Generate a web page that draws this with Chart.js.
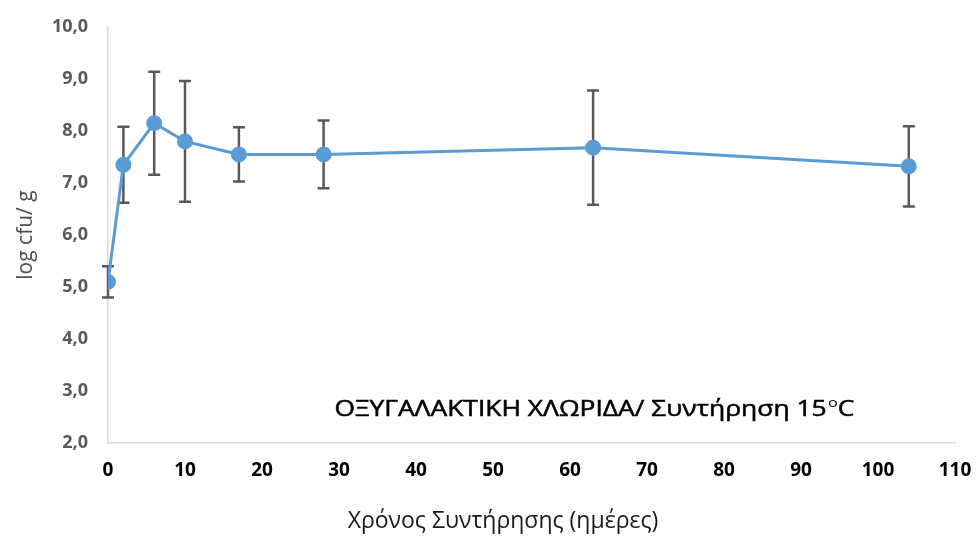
<!DOCTYPE html>
<html>
<head>
<meta charset="utf-8">
<script src="https://cdn.jsdelivr.net/npm/chart.js@4/dist/chart.umd.min.js"></script>
<style>
  html, body { margin: 0; padding: 0; background: #ffffff; }
  #wrap { width: 978px; height: 540px; }
</style>
</head>
<body>
<div id="wrap"><canvas id="chart" width="978" height="540"></canvas></div>
<script>
// Storage time (days)
const days = [0, 2, 6, 10, 17, 28, 63, 104];
// Mean log cfu/g
const logCfu = [5.1, 7.35, 8.15, 7.8, 7.55, 7.55, 7.68, 7.32];
// Error (+/-) for each point
const errors = [0.3, 0.73, 0.99, 1.16, 0.52, 0.65, 1.1, 0.77];

const xTitle = "Χρόνος Συντήρησης (ημέρες)";
const yTitle = "log cfu/ g";
const noteMain = "ΟΞΥΓΑΛΑΚΤΙΚΗ ΧΛΩΡΙΔΑ/ Συντήρηση 15";

const points = days.map((d, i) => ({ x: d, y: logCfu[i] }));

// Draw error bars from the scales
const errorBars = {
  id: "errorBars",
  beforeDatasetsDraw(chart) {
    const { ctx, scales } = chart;
    ctx.save();
    ctx.strokeStyle = "#595959";
    ctx.lineWidth = 2.5;
    points.forEach((p, i) => {
      const x = scales.x.getPixelForValue(p.x);
      const top = scales.y.getPixelForValue(p.y + errors[i]);
      const bot = scales.y.getPixelForValue(p.y - errors[i]);
      ctx.beginPath();
      ctx.moveTo(x, top);
      ctx.lineTo(x, bot);
      ctx.moveTo(x - 6, top);
      ctx.lineTo(x + 6, top);
      ctx.moveTo(x - 6, bot);
      ctx.lineTo(x + 6, bot);
      ctx.stroke();
    });
    ctx.restore();
  },
};

// Note inside the plot and x axis title (stretched a bit wider, like the original)
const note = {
  id: "note",
  afterDraw(chart) {
    const { ctx, scales, chartArea } = chart;
    const x0 = scales.x.getPixelForValue(29.4);
    const y0 = scales.y.getPixelForValue(2.63);
    const big = "21px 'Open Sans'";
    const small = "13px 'Open Sans'";
    ctx.save();
    ctx.font = big;
    const w1 = ctx.measureText(noteMain).width;
    const wC = ctx.measureText("C").width;
    ctx.font = small;
    const wo = ctx.measureText("o").width;
    const total = w1 + wo + wC + 1;
    const sx = 520 / total;
    ctx.translate(x0, y0);
    ctx.scale(sx, 1);
    ctx.fillStyle = "#000000";
    ctx.textBaseline = "middle";
    ctx.textAlign = "left";
    ctx.font = big;
    ctx.fillText(noteMain, 0, 0);
    ctx.lineWidth = 0.5;
    ctx.strokeStyle = "#000000";
    ctx.strokeText(noteMain, 0, 0);
    ctx.font = small;
    ctx.fillText("o", w1 + 1, -7);
    ctx.font = big;
    ctx.fillText("C", w1 + wo + 1, 0);
    ctx.strokeText("C", w1 + wo + 1, 0);
    ctx.restore();

    ctx.save();
    ctx.fillStyle = "#1a1a1a";
    ctx.textAlign = "center";
    ctx.textBaseline = "middle";
    ctx.font = "23px 'Open Sans'";
    ctx.fillText(xTitle, chartArea.left + 395, chartArea.bottom + 78);
    ctx.restore();
  },
};

new Chart(document.getElementById("chart"), {
  type: "line",
  data: {
    datasets: [
      {
        data: points,
        borderColor: "#5B9BD5",
        backgroundColor: "#5B9BD5",
        borderWidth: 3,
        pointRadius: 6.5,
        pointHoverRadius: 6.5,
        tension: 0,
      },
    ],
  },
  plugins: [errorBars, note],
  options: {
    responsive: false,
    animation: false,
    layout: { padding: { top: 27, right: 23, left: 0, bottom: 0 } },
    plugins: {
      legend: { display: false },
      tooltip: { enabled: false },
    },
    scales: {
      x: {
        type: "linear",
        min: 0,
        max: 110,
        grid: { display: false, drawTicks: false },
        border: { color: "#d9d9d9", width: 1.5 },
        ticks: {
          stepSize: 10,
          color: "#000000",
          padding: 16,
          font: { family: "'Open Sans'", size: 19, weight: "bold" },
        },
        afterFit(scale) {
          scale.height = 97;
          scale.paddingLeft = 0;
          scale.paddingRight = 0;
        },
      },
      y: {
        min: 2,
        max: 10,
        grid: { display: false, drawTicks: false },
        border: { color: "#d9d9d9", width: 1.5 },
        ticks: {
          stepSize: 1,
          color: "#595959",
          padding: 20,
          font: { family: "'Open Sans'", size: 18, weight: "bold" },
          callback: (v) => v.toFixed(1).replace(".", ","),
        },
        title: {
          display: true,
          text: yTitle,
          color: "#4d4d4d",
          font: { family: "'Open Sans'", size: 21 },
          padding: { top: 13, bottom: 4 },
        },
        afterFit(scale) {
          scale.width = 108;
          scale.paddingTop = 0;
          scale.paddingBottom = 0;
        },
      },
    },
  },
});
</script>
</body>
</html>
